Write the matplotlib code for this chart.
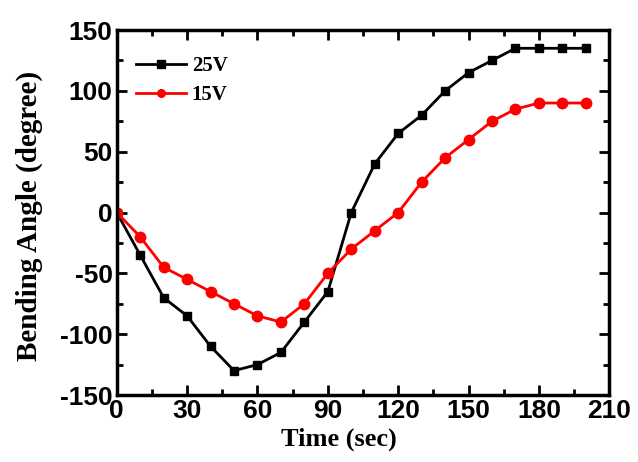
import matplotlib.pyplot as plt
from matplotlib.ticker import MultipleLocator

plt.rcParams['axes.unicode_minus'] = False

# bending angle vs time for two driving voltages
time_sec = [0, 10, 20, 30, 40, 50, 60, 70, 80, 90, 100,
            110, 120, 130, 140, 150, 160, 170, 180, 190, 200]
angle_25v = [0, -35, -70, -85, -110, -130, -125, -115, -90, -65, 0,
             40, 65, 80, 100, 115, 125, 135, 135, 135, 135]
angle_15v = [0, -20, -45, -55, -65, -75, -85, -90, -75, -50, -30,
             -15, 0, 25, 45, 60, 75, 85, 90, 90, 90]

fig = plt.figure(figsize=(6.38, 4.62), dpi=100)
ax = fig.add_axes([0.183, 0.145, 0.772, 0.79])

ax.plot(time_sec, angle_25v, color='black', marker='s', markersize=6,
        linewidth=2, label='25V')
ax.plot(time_sec, angle_15v, color='red', marker='o', markersize=7.5,
        linewidth=2, label='15V')

ax.set_xlim(0, 210)
ax.set_ylim(-150, 150)
ax.xaxis.set_major_locator(MultipleLocator(30))
ax.xaxis.set_minor_locator(MultipleLocator(15))
ax.yaxis.set_major_locator(MultipleLocator(50))
ax.yaxis.set_minor_locator(MultipleLocator(25))

for s in ax.spines.values():
    s.set_linewidth(2.5)
ax.tick_params(which='both', direction='in', top=True, right=True, width=2)
ax.tick_params(which='major', length=7, pad=3)
ax.tick_params(which='minor', length=4)

for lbl in ax.get_xticklabels() + ax.get_yticklabels():
    lbl.set_family('Liberation Sans')
    lbl.set_fontweight('bold')
    lbl.set_fontsize(19)

ax.set_xlabel('Time (sec)', family='Liberation Serif', fontweight='bold',
              fontsize=19)
ax.xaxis.set_label_coords(0.45, -0.09)
ax.set_ylabel('Bending Angle (degree)', family='Liberation Serif',
              fontweight='bold', fontsize=21)
ax.yaxis.set_label_coords(-0.15, 0.49)

leg = ax.legend(loc='upper left', frameon=False, handlelength=2.4,
                prop={'family': 'Liberation Serif', 'weight': 'bold', 'size': 15},
                bbox_to_anchor=(0.0, 0.98), labelspacing=0.45, handletextpad=0.3)
for h in leg.legend_handles:
    h.set_markersize(5.5)

plt.savefig('out.png', dpi=100)
